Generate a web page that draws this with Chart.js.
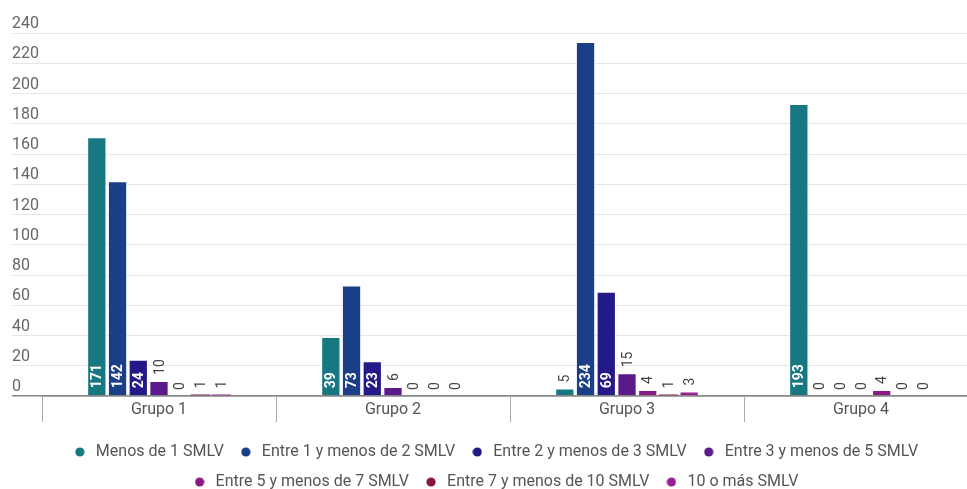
<!DOCTYPE html>
<html>
<head>
<meta charset="utf-8">
<script src="https://cdn.jsdelivr.net/npm/chart.js@4"></script>
<style>
  html, body { margin: 0; padding: 0; background: #fff; overflow: hidden; }
  #chart_section { width: 967px; height: 489px; overflow: hidden; }
</style>
</head>
<body>
<div id="chart_section"><canvas id="chart" width="988" height="489"></canvas></div>
<script>
const groups = ['Grupo 1', 'Grupo 2', 'Grupo 3', 'Grupo 4'];
const series_names = [
  'Menos de 1 SMLV',
  'Entre 1 y menos de 2 SMLV',
  'Entre 2 y menos de 3 SMLV',
  'Entre 3 y menos de 5 SMLV',
  'Entre 5 y menos de 7 SMLV',
  'Entre 7 y menos de 10 SMLV',
  '10 o más SMLV'
];
const menos_1 = [171, 39, 5, 193];
const entre_1_2 = [142, 73, 234, 0];
const entre_2_3 = [24, 23, 69, 0];
const entre_3_5 = [10, 6, 15, 0];
const entre_5_7 = [0, 0, 4, 4];
const entre_7_10 = [1, 0, 1, 0];
const mas_10 = [1, 0, 3, 0];
const y_ticks = [0, 20, 40, 60, 80, 100, 120, 140, 160, 180, 200, 220, 240];

const series_values = [menos_1, entre_1_2, entre_2_3, entre_3_5, entre_5_7, entre_7_10, mas_10];
const background_colors = ['#177882', '#1b3f86', '#241a87', '#5a1a8c', '#8a1a86', '#8c1540', '#962192'];

function get_dot (color) {
  const c = document.createElement('canvas');
  c.width = 10;
  c.height = 10;
  const dctx = c.getContext('2d');
  dctx.fillStyle = color;
  dctx.beginPath();
  dctx.arc(5, 5, 4.6, 0, Math.PI * 2);
  dctx.fill();
  return c;
}
const dots = background_colors.map(get_dot);

// value labels, rotated, inside the bar when it fits
const bar_labels = {
  id: 'bar_labels',
  afterDatasetsDraw (chart) {
    const ctx = chart.ctx;
    chart.data.datasets.forEach(function (ds, i) {
      const meta = chart.getDatasetMeta(i);
      meta.data.forEach(function (bar, j) {
        const text = String(ds.data[j]);
        const h = bar.base - bar.y;
        ctx.save();
        ctx.font = 'bold 14px Roboto';
        const w = ctx.measureText(text).width;
        ctx.textBaseline = 'middle';
        ctx.textAlign = 'left';
        if (w + 12 < h) {
          ctx.fillStyle = '#ffffff';
          ctx.translate(bar.x, bar.base - 7);
        } else {
          ctx.font = '14px Roboto';
          ctx.fillStyle = '#444444';
          ctx.translate(bar.x, bar.y - 6);
        }
        ctx.rotate(-Math.PI / 2);
        ctx.fillText(text, 0, 1);
        ctx.restore();
      });
    });
  }
};

// tick marks between the groups, taken from the x scale
const group_ticks = {
  id: 'group_ticks',
  afterDraw (chart) {
    const x = chart.scales.x;
    const ctx = chart.ctx;
    const n = groups.length;
    const half = (x.getPixelForTick(1) - x.getPixelForTick(0)) / 2;
    ctx.save();
    ctx.strokeStyle = '#aaaaaa';
    ctx.lineWidth = 1;
    for (let i = 0; i <= n; i++) {
      const px = Math.round(x.getPixelForTick(Math.min(i, n - 1)) + (i < n ? -half : half)) + 0.5;
      ctx.beginPath();
      ctx.moveTo(px, x.top);
      ctx.lineTo(px, x.top + 26);
      ctx.stroke();
    }
    ctx.restore();
  }
};

const datasets = series_names.map(function (name, i) {
  return {
    label: name,
    data: series_values[i],
    backgroundColor: background_colors[i],
    borderColor: 'rgba(255,255,255,0.7)',
    borderWidth: function (ctx) { return ctx.raw >= 3 ? 1 : 0; },
    categoryPercentage: 0.62,
    barPercentage: 0.93
  };
});

const canvas = document.getElementById('chart');
const chart = new Chart(canvas, {
  type: 'bar',
  data: { labels: groups, datasets: datasets },
  plugins: [bar_labels, group_ticks],
  options: {
    responsive: false,
    animation: false,
    devicePixelRatio: 1,
    layout: { padding: { left: 12, right: 10, top: 33, bottom: 0 } },
    plugins: {
      tooltip: { enabled: false },
      legend: {
        position: 'bottom',
        maxHeight: 59,
        labels: {
          usePointStyle: true,
          boxWidth: 16,
          padding: 14,
          color: '#555555',
          font: { family: 'Roboto', size: 16 },
          generateLabels: function (c) {
            const items = Chart.defaults.plugins.legend.labels.generateLabels(c);
            items.forEach(function (item, i) {
              item.pointStyle = dots[i];
              item.lineWidth = 0;
            });
            return items;
          }
        }
      }
    },
    scales: {
      x: {
        afterFit: function (scale) { scale.height = 34; },
        grid: {
          offset: true,
          drawOnChartArea: false,
          drawTicks: false
        },
        border: { display: true, color: '#888888', width: 1.5 },
        ticks: {
          color: '#555555',
          padding: 4,
          font: { family: 'Roboto', size: 16 }
        }
      },
      y: {
        min: 0,
        max: 240,
        afterBuildTicks: function (scale) {
          scale.ticks = y_ticks.map(function (v) { return { value: v }; });
        },
        afterFit: function (scale) { scale.width = 30; },
        grid: {
          tickLength: 30,
          color: function (ctx) { return ctx.tick && ctx.tick.value === 0 ? '#888888' : '#e6e6e6'; },
          lineWidth: function (ctx) { return ctx.tick && ctx.tick.value === 0 ? 1.5 : 1; }
        },
        border: { display: false },
        ticks: {
          crossAlign: 'far',
          labelOffset: -9,
          padding: 0,
          color: '#666666',
          font: { family: 'Roboto', size: 16 }
        }
      }
    }
  }
});
</script>
</body>
</html>
